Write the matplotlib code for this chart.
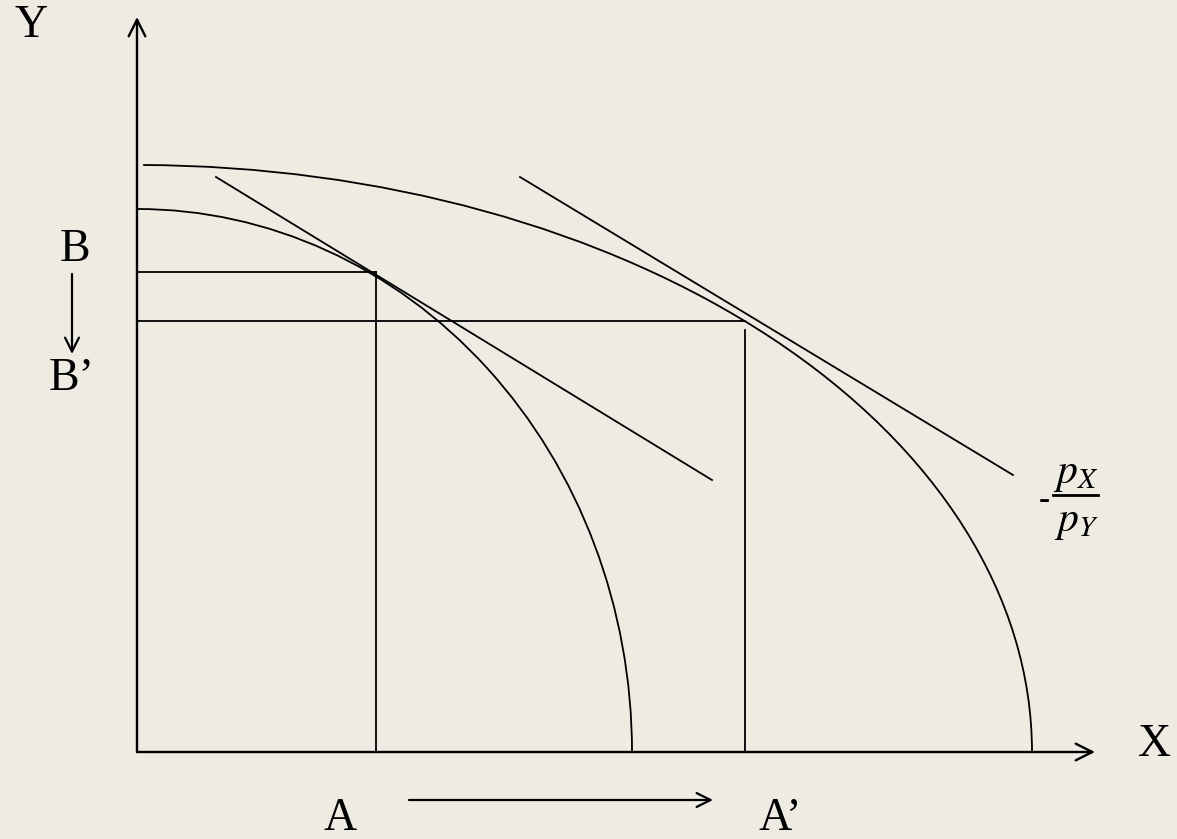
import matplotlib.pyplot as plt
from matplotlib.patches import Arc

# diagram coordinates: origin at the axes corner, units ~ pixels
inner_ppf = [495, 543]          # x-intercept, y-intercept
outer_ppf = [895, 587]
inner_tangent_x = [79, 575]
inner_tangent_y = [575, 272]
outer_tangent_x = [383, 876]
outer_tangent_y = [575, 277]
point_a = [239, 480]            # A, B
point_a2 = [608, 431]           # A', B'

bg = '#eeebe3'
serif = 'Liberation Serif'
plt.rcParams['mathtext.fontset'] = 'stix'

fig = plt.figure(figsize=(11.77, 8.39), dpi=100, facecolor=bg)
ax = fig.add_axes([0, 0, 1, 1])
ax.set_facecolor(bg)
ax.set_xlim(-137, 1040)
ax.set_ylim(-87, 752)
ax.axis('off')

# axes with open arrow heads
ax.annotate('', xy=(0, 735), xytext=(0, 0),
            arrowprops=dict(arrowstyle='->', lw=1.7, color='black',
                            mutation_scale=30, shrinkA=0, shrinkB=0))
ax.annotate('', xy=(958, 0), xytext=(0, 0),
            arrowprops=dict(arrowstyle='->', lw=1.7, color='black',
                            mutation_scale=30, shrinkA=0, shrinkB=0))

# production possibility frontiers
ax.add_patch(Arc((0, 0), 2 * inner_ppf[0], 2 * inner_ppf[1], theta1=0, theta2=90,
                 lw=1.3, color='black'))
ax.add_patch(Arc((0, 0), 2 * outer_ppf[0], 2 * outer_ppf[1], theta1=0, theta2=89.4,
                 lw=1.3, color='black'))

# price lines
ax.plot(inner_tangent_x, inner_tangent_y, color='black', lw=1.3)
ax.plot(outer_tangent_x, outer_tangent_y, color='black', lw=1.3)

# guide lines
ax.plot([0, point_a[0]], [point_a[1], point_a[1]], color='black', lw=1.3)
ax.plot([point_a[0], point_a[0]], [0, point_a[1]], color='black', lw=1.3)
ax.plot([0, point_a2[0]], [point_a2[1], point_a2[1]], color='black', lw=1.3)
ax.plot([point_a2[0], point_a2[0]], [0, point_a2[1] - 9], color='black', lw=1.3)

# labels
fs = 33
ax.text(-106, 726, 'Y', fontsize=fs, family=serif, ha='center', va='center')
ax.text(1018, 7, 'X', fontsize=fs, family=serif, ha='center', va='center')
ax.text(-62, 502, 'B', fontsize=fs, family=serif, ha='center', va='center')
ax.text(-65, 373, 'B’', fontsize=fs, family=serif, ha='center', va='center')
ax.text(203, -67, 'A', fontsize=fs, family=serif, ha='center', va='center')
ax.text(643, -67, 'A’', fontsize=fs, family=serif, ha='center', va='center')

ax.annotate('', xy=(-65, 398), xytext=(-65, 478),
            arrowprops=dict(arrowstyle='->', lw=1.6, color='black',
                            mutation_scale=25, shrinkA=0, shrinkB=0))
ax.annotate('', xy=(576, -48), xytext=(272, -48),
            arrowprops=dict(arrowstyle='->', lw=1.6, color='black',
                            mutation_scale=25, shrinkA=0, shrinkB=0))

# -pX/pY label built from numerator, bar and denominator
ax.text(907, 252, '-', fontsize=24, ha='center', va='center', family=serif,
        fontweight='bold')
ax.text(939, 279, r'$p_X$', fontsize=30, ha='center', va='center')
ax.plot([916, 961], [257, 257], color='black', lw=2)
ax.text(939, 231, r'$p_Y$', fontsize=30, ha='center', va='center')

fig.savefig('out.png', dpi=100, facecolor=bg)
